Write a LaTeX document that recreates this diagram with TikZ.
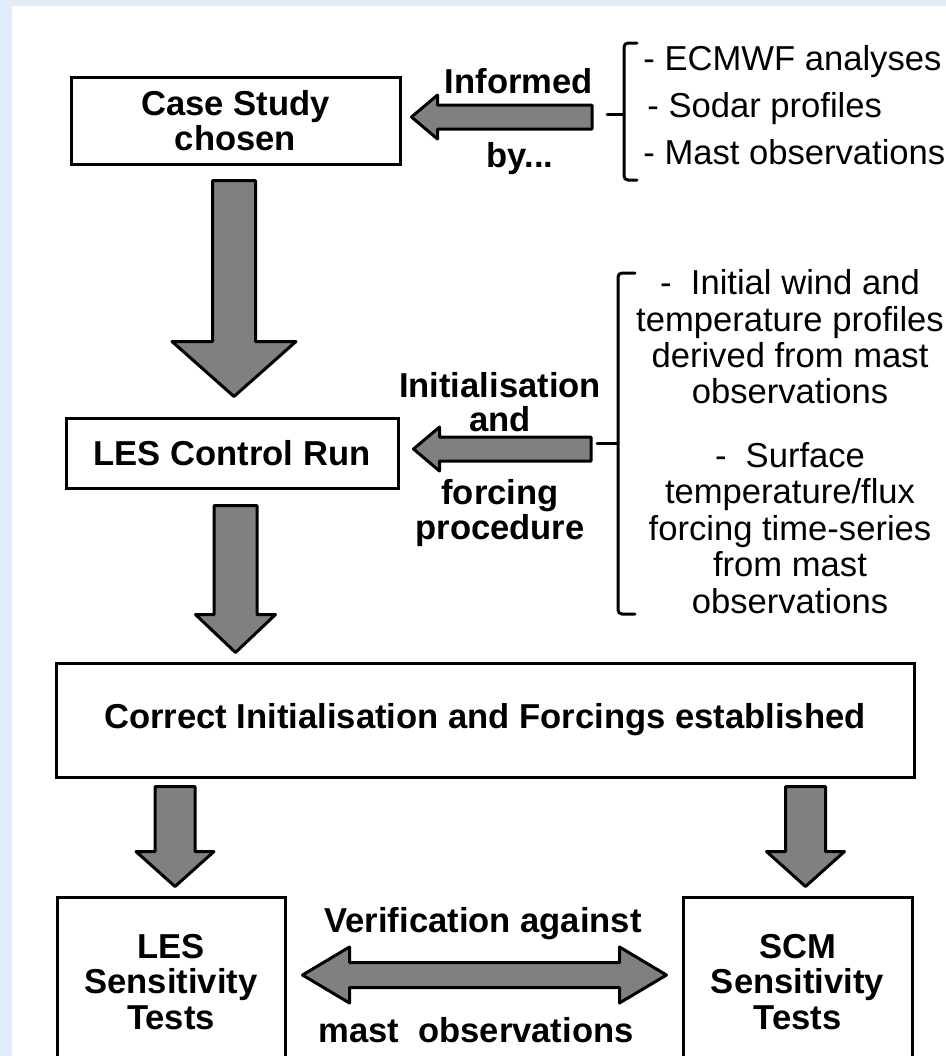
\documentclass[tikz,border=0pt]{standalone}
\usepackage{fontspec}
\setmainfont{Liberation Sans}
\usetikzlibrary{calc}
\definecolor{bgblue}{RGB}{225,237,251}
\definecolor{arrowgray}{RGB}{128,128,128}
\tikzset{
  box/.style={draw=black, line width=1.5pt, fill=white, align=center, inner sep=0pt,
    font=\bfseries\fontsize{17.3}{17.6}\selectfont},
  lbl/.style={align=center, inner sep=0pt, font=\bfseries\fontsize{17.3}{17.2}\selectfont},
  note/.style={align=center, inner sep=0pt, font=\fontsize{17.3}{18.2}\selectfont},
  blockarrow/.style={draw=black, line width=1.5pt, fill=arrowgray, line join=round},
  brace/.style={draw=black, line width=1.5pt, rounded corners=2pt, line cap=round},
  shaftw/.code={\def\sw{#1}},
  headdim/.code 2 args={\def\hw{#1}\def\hl{#2}},
}
\begin{document}
\begin{tikzpicture}[x=0.5pt,y=-0.5pt]
\fill[bgblue] (0,0) rectangle (946,1056);
\fill[white] (12,6) rectangle (946,1056);
\useasboundingbox (0,0) rectangle (946,1056);
\clip (0,0) rectangle (946,1056);
% boxes
\node[box, minimum width=164.5pt, minimum height=43.5pt] (case) at (235.5,120.5) {Case Study\\chosen};
\node[box, minimum width=166pt, minimum height=35pt] (les) at (232,453) {LES Control Run};
\node[box, minimum width=429pt, minimum height=57pt] (correct) at (485,720) {Correct Initialisation and Forcings established};
\node[box, minimum width=114pt, minimum height=85pt] (lessens) at (171,982) {LES\\Sensitivity\\Tests};
\node[box, minimum width=114.5pt, minimum height=85pt] (scmsens) at (797.5,982) {SCM\\Sensitivity\\Tests};
% sources
\draw[brace] (637,43) -- (624,43) -- (624,180) -- (637,180);
\draw[brace] (607,114) -- (624,114);
\coordinate (src) at (607,116);
\node[note, anchor=west] (ecmwf) at (643,61.5) {- ECMWF analyses};
\node[note, anchor=west] (sodar) at (647,109) {- Sodar profiles};
\node[note, anchor=west] (mast) at (643,152) {- Mast observations};
\draw[brace] (635,273) -- (618,273) -- (618,614) -- (635,614);
\draw[brace] (597,443) -- (618,443);
\coordinate (init) at (597,449);
\node[note] (initprof) at (790,337) {-\ \ Initial wind and\\temperature profiles\\derived from mast\\observations};
\node[note] (sfcforc) at (790,528) {-\ \ Surface\\temperature/flux\\forcing time-series\\from mast\\observations};
% arrow labels
\node[lbl] (informed) at (519,81) {Informed};
\node[lbl] (by) at (520,159) {by...};
\node[lbl] (initand) at (500,402) {Initialisation\\and};
\node[lbl] (forcproc) at (500,513) {forcing\\procedure};
\node[lbl] (verif) at (483,924) {Verification against};
\node[lbl] (mastobs) at (476,1030) {mast\ \ observations};
% arrow ends
\coordinate (a1s) at ($(case.south)+(-1.5,15)$);
\coordinate (a1e) at ($(case.south)+(-1.5,231)$);
\coordinate (a2s) at ($(les.south)+(3.5,16)$);
\coordinate (a2e) at ($(les.south)+(3.5,163)$);
\coordinate (a3s) at ($(lessens.north |- correct.south)+(4,8)$);
\coordinate (a3e) at ($(lessens.north)+(4,-9)$);
\coordinate (a4s) at ($(scmsens.north |- correct.south)+(8,8)$);
\coordinate (a4e) at ($(scmsens.north)+(8,-9)$);
\coordinate (a5s) at ($(src)+(-15,1)$);
\coordinate (a5e) at ($(case.east |- src)+(10,1)$);
\coordinate (a6s) at ($(init)+(-6,0)$);
\coordinate (a6e) at ($(les.east |- init)+(14,0)$);
\coordinate (a7s) at ($(lessens.east)+(16,-7)$);
\coordinate (a7e) at ($(scmsens.west)+(-15,-7)$);
% down arrows
\draw[blockarrow, shaftw=10.75pt, headdim={31pt}{27.5pt}] let \p1=(a1s), \p2=(a1e) in
  (\x1-\sw,\y1) -- (\x1+\sw,\y1) -- (\x1+\sw,\y2+\hl) -- (\x1+\hw,\y2+\hl) -- (\x1,\y2) -- (\x1-\hw,\y2+\hl) -- (\x1-\sw,\y2+\hl) -- cycle;
\draw[blockarrow, shaftw=10.75pt, headdim={20pt}{19pt}] let \p1=(a2s), \p2=(a2e) in
  (\x1-\sw,\y1) -- (\x1+\sw,\y1) -- (\x1+\sw,\y2+\hl) -- (\x1+\hw,\y2+\hl) -- (\x1,\y2) -- (\x1-\hw,\y2+\hl) -- (\x1-\sw,\y2+\hl) -- cycle;
\draw[blockarrow, shaftw=10pt, headdim={19.5pt}{17.5pt}] let \p1=(a3s), \p2=(a3e) in
  (\x1-\sw,\y1) -- (\x1+\sw,\y1) -- (\x1+\sw,\y2+\hl) -- (\x1+\hw,\y2+\hl) -- (\x1,\y2) -- (\x1-\hw,\y2+\hl) -- (\x1-\sw,\y2+\hl) -- cycle;
\draw[blockarrow, shaftw=10pt, headdim={19.5pt}{17.5pt}] let \p1=(a4s), \p2=(a4e) in
  (\x1-\sw,\y1) -- (\x1+\sw,\y1) -- (\x1+\sw,\y2+\hl) -- (\x1+\hw,\y2+\hl) -- (\x1,\y2) -- (\x1-\hw,\y2+\hl) -- (\x1-\sw,\y2+\hl) -- cycle;
% left arrows
\draw[blockarrow, shaftw=6pt, headdim={11pt}{13pt}] let \p1=(a5s), \p2=(a5e) in
  (\x1,\y1+\sw) -- (\x2+\hl,\y1+\sw) -- (\x2+\hl,\y1+\hw) -- (\x2,\y1) -- (\x2+\hl,\y1-\hw) -- (\x2+\hl,\y1-\sw) -- (\x1,\y1-\sw) -- cycle;
\draw[blockarrow, shaftw=6pt, headdim={11pt}{13pt}] let \p1=(a6s), \p2=(a6e) in
  (\x1,\y1+\sw) -- (\x2+\hl,\y1+\sw) -- (\x2+\hl,\y1+\hw) -- (\x2,\y1) -- (\x2+\hl,\y1-\hw) -- (\x2+\hl,\y1-\sw) -- (\x1,\y1-\sw) -- cycle;
% double arrow
\draw[blockarrow, shaftw=6.25pt, headdim={14pt}{23.5pt}] let \p1=(a7s), \p2=(a7e) in
  (\x1,\y1) -- (\x1+\hl,\y1+\hw) -- (\x1+\hl,\y1+\sw) -- (\x2-\hl,\y1+\sw) -- (\x2-\hl,\y1+\hw) -- (\x2,\y1)
  -- (\x2-\hl,\y1-\hw) -- (\x2-\hl,\y1-\sw) -- (\x1+\hl,\y1-\sw) -- (\x1+\hl,\y1-\hw) -- cycle;
\end{tikzpicture}
\end{document}
